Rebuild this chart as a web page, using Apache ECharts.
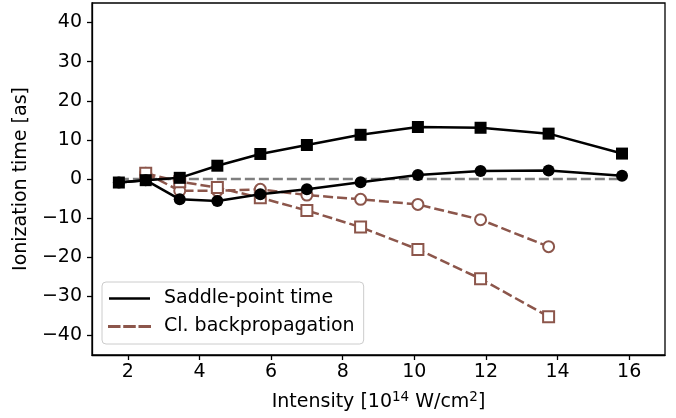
<!DOCTYPE html>
<html>
<head>
<meta charset="utf-8">
<script src="https://cdn.jsdelivr.net/npm/echarts@6/dist/echarts.min.js"></script>
<style>html,body{margin:0;padding:0;background:#fff}#c{width:676px;height:418px}</style>
</head>
<body>
<div id="c"></div>
<script>
const intensity = [1.75, 2.5, 3.45, 4.5, 5.7, 7.0, 8.5, 10.1, 11.85, 13.75, 15.8];
const saddleSquare = [-0.9, -0.3, 0.3, 3.4, 6.4, 8.7, 11.3, 13.3, 13.1, 11.6, 6.5];
const saddleCircle = [-0.9, -0.3, -5.2, -5.65, -3.9, -2.6, -0.85, 1.0, 2.05, 2.2, 0.85];
const backIntensity = [2.5, 3.45, 4.5, 5.7, 7.0, 8.5, 10.1, 11.85, 13.75];
const backSquare = [1.45, -0.7, -2.2, -4.8, -8.05, -12.3, -18.0, -25.5, -35.2];
const backCircle = [1.45, -3.0, -3.0, -2.65, -4.1, -5.2, -6.5, -10.4, -17.3];
const zeroLineX = [1.75, 15.8];
const xTicks = [2, 4, 6, 8, 10, 12, 14, 16];
const yTicks = [-40, -30, -20, -10, 0, 10, 20, 30, 40];

const BROWN = '#8c564b';
const FONT = 'DejaVu Sans';
const FS = 19;
const pair = (xs, ys) => xs.map((x, i) => [x, ys[i]]);
const fmt = v => v < 0 ? '\u2212' + Math.abs(v) : String(v);

const chart = echarts.init(document.getElementById('c'), null, {renderer: 'canvas'});
chart.setOption({
  animation: false,
  backgroundColor: '#fff',
  textStyle: {fontFamily: FONT, color: '#000'},
  grid: {left: 92, right: 11, top: 3, bottom: 63, show: true, borderColor: '#000', borderWidth: 1.3, containLabel: false},
  xAxis: {
    type: 'value', min: 1, max: 17,
    name: '{b|Intensity [10}{sup|14}{b| W/cm}{sup|2}{b|]}',
    nameLocation: 'middle', nameGap: 35,
    nameTextStyle: {fontFamily: FONT, fontSize: FS, color: '#000',
      rich: {
        b: {fontFamily: FONT, fontSize: FS, lineHeight: 22, verticalAlign: 'bottom', color: '#000'},
        sup: {fontFamily: FONT, fontSize: 13.5, lineHeight: 14, verticalAlign: 'top', color: '#000'}
      }},
    axisLine: {show: true, onZero: false, lineStyle: {color: '#000', width: 1.3}},
    axisTick: {show: true, inside: false, length: 5, lineStyle: {color: '#000', width: 1.3}, customValues: xTicks},
    axisLabel: {fontFamily: FONT, fontSize: FS, color: '#000', margin: 8, customValues: xTicks, formatter: fmt},
    splitLine: {show: false}
  },
  yAxis: {
    type: 'value', min: -45, max: 45,
    name: 'Ionization time [as]',
    nameLocation: 'middle', nameGap: 61, nameRotate: 90,
    nameTextStyle: {fontFamily: FONT, fontSize: FS, color: '#000'},
    axisLine: {show: true, onZero: false, lineStyle: {color: '#000', width: 1.3}},
    axisTick: {show: true, inside: false, length: 5, lineStyle: {color: '#000', width: 1.3}, customValues: yTicks},
    axisLabel: {fontFamily: FONT, fontSize: FS, color: '#000', margin: 10, customValues: yTicks, formatter: fmt},
    splitLine: {show: false}
  },
  legend: {
    orient: 'vertical', left: 102, top: 282,
    padding: [7, 9, 8, 6], itemGap: 9,
    itemWidth: 41, itemHeight: 2.5,
    backgroundColor: 'rgba(255,255,255,0.8)', borderColor: '#cccccc', borderWidth: 1, borderRadius: 4,
    textStyle: {fontFamily: FONT, fontSize: FS, color: '#000', padding: [0, 0, 0, 9]},
    data: [
      {name: 'Saddle-point time', icon: 'rect'},
      {name: 'Cl. backpropagation', icon: 'path://M0,0H10V1H0Z M14.5,0H24.5V1H14.5Z M29,0H39V1H29Z'}
    ]
  },
  series: [
    {
      name: 'zero', type: 'line', data: pair(zeroLineX, [0, 0]), symbol: 'none', z: 1,
      lineStyle: {color: '#7f7f7f', width: 2.4, type: [10, 4]}, silent: true
    },
    {
      name: 'Cl. backpropagation', type: 'line', data: pair(backIntensity, backCircle), z: 2,
      symbol: 'circle', symbolSize: 11, showSymbol: true,
      lineStyle: {color: BROWN, width: 2.5, type: [10, 4]},
      itemStyle: {color: '#fff', borderColor: BROWN, borderWidth: 2}, color: BROWN
    },
    {
      name: 'Cl. backpropagation', type: 'line', data: pair(backIntensity, backSquare), z: 3,
      symbol: 'rect', symbolSize: 11, showSymbol: true,
      lineStyle: {color: BROWN, width: 2.5, type: [10, 4]},
      itemStyle: {color: '#fff', borderColor: BROWN, borderWidth: 2}, color: BROWN
    },
    {
      name: 'Saddle-point time', type: 'line', data: pair(intensity, saddleCircle), z: 4,
      symbol: 'circle', symbolSize: 12, showSymbol: true,
      lineStyle: {color: '#000', width: 2.5},
      itemStyle: {color: '#000'}, color: '#000'
    },
    {
      name: 'Saddle-point time', type: 'line', data: pair(intensity, saddleSquare), z: 5,
      symbol: 'rect', symbolSize: 12, showSymbol: true,
      lineStyle: {color: '#000', width: 2.5},
      itemStyle: {color: '#000'}, color: '#000'
    }
  ]
});
</script>
</body>
</html>
